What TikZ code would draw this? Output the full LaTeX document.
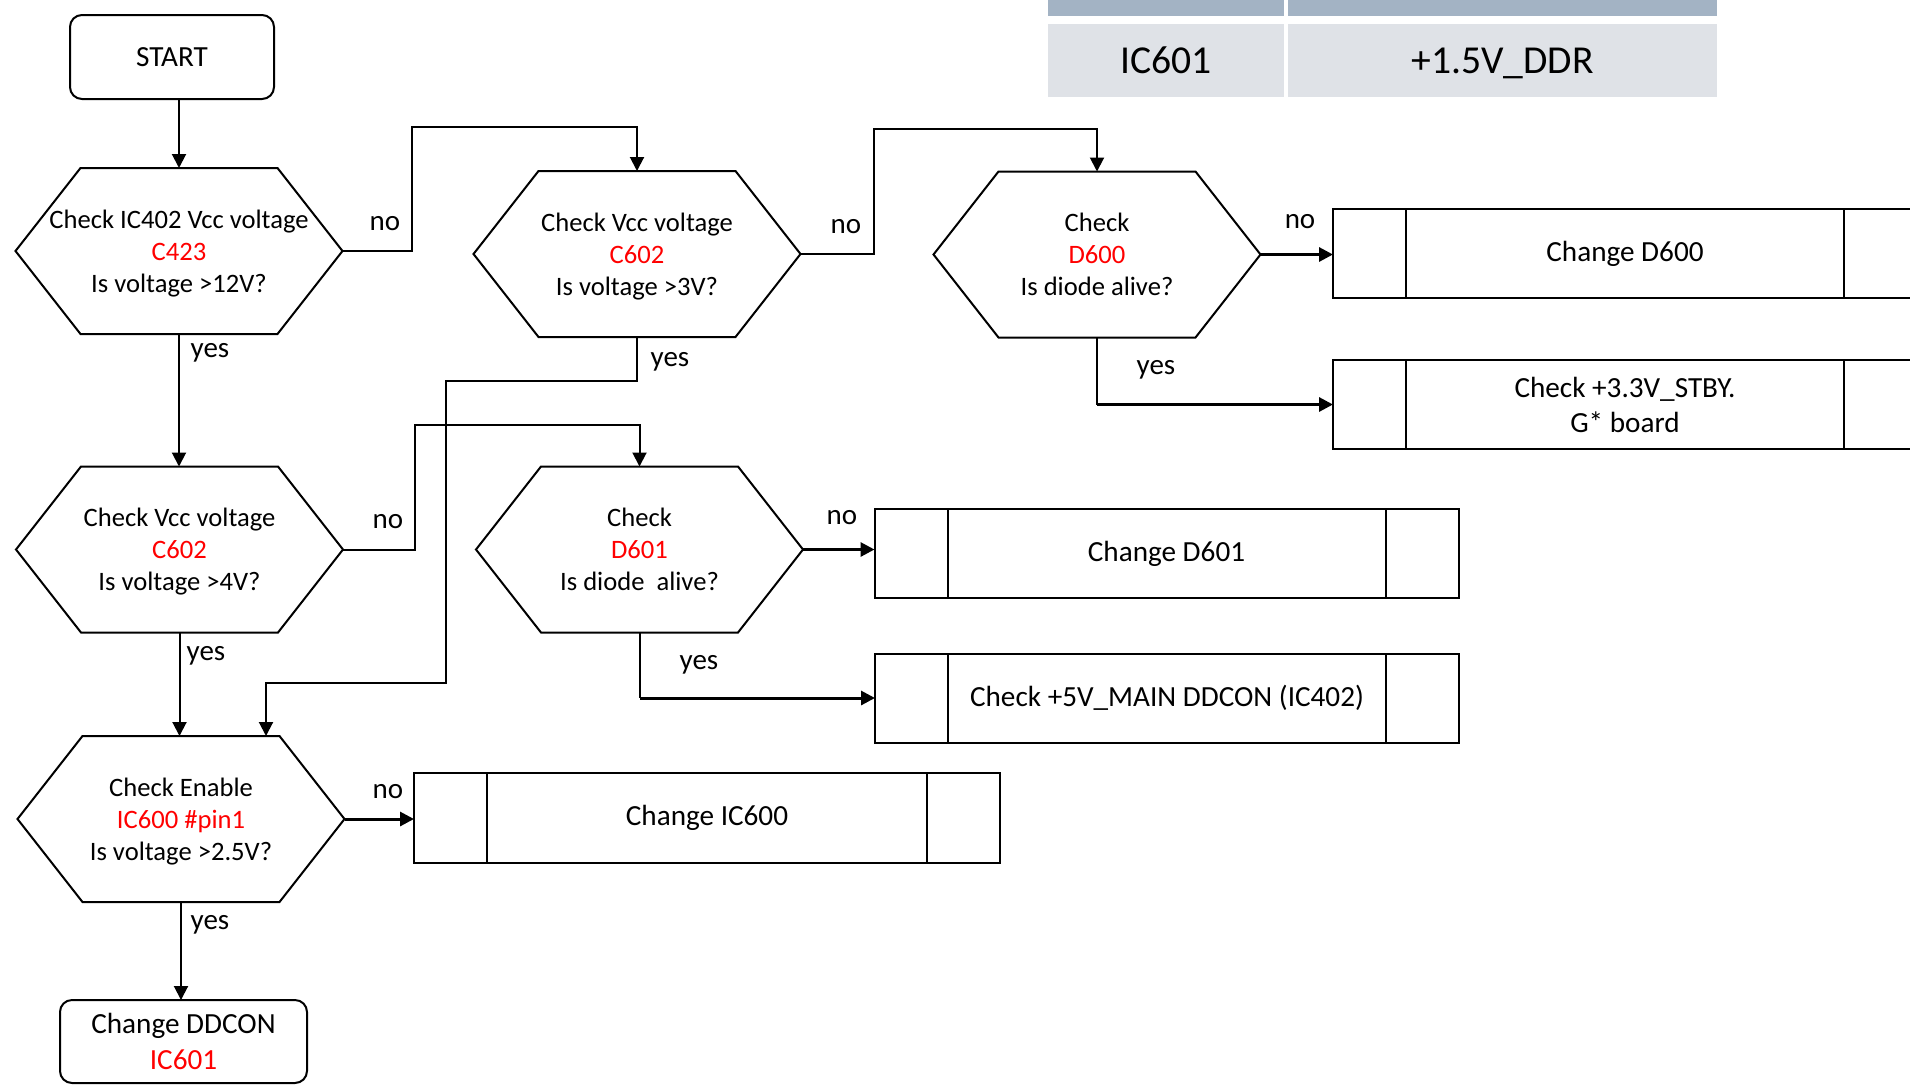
\documentclass[tikz,border=0pt]{standalone}
\usepackage{fontspec}
\setmainfont{Carlito}
\usetikzlibrary{arrows.meta}

\definecolor{headblue}{RGB}{163,179,196}
\definecolor{cellgray}{RGB}{223,226,231}

% 判断框内的三行文字, 第二行为红色
\newcommand{\asktext}[3]{#1\\\textcolor{red}{#2}\\\raisebox{0pt}[\height][0pt]{#3}}

\tikzset{
	decision/.style={inner sep=0pt, outer sep=0pt, minimum width=163.5pt, minimum height=83pt, align=center, font=\fontsize{13.3}{16}\selectfont},
	endbox/.style={draw, line width=1pt, rounded corners=6pt, inner sep=0pt, outer sep=0pt, align=center, font=\fontsize{14.6}{18}\selectfont},
	procbox/.style={draw, line width=1pt, inner sep=0pt, outer sep=0pt, minimum width=292pt, minimum height=44.5pt, align=center, font=\fontsize{14.6}{17.5}\selectfont},
	answer/.style={inner sep=0pt, font=\fontsize{14.5}{17}\selectfont},
	cell/.style={fill=cellgray, inner sep=0pt, minimum height=36.5pt, text height=15pt, text depth=2.2pt, font=\fontsize{19.8}{24}\selectfont},
	toproc/.style={->, line width=1.5pt},
}

\begin{document}
\begin{tikzpicture}[x=0.5pt, y=-0.5pt, line width=1pt, >={Triangle[length=7pt,width=7pt]}]
	
	% 画布大小
	\useasboundingbox (0,0) rectangle (1910,1088);
	
	% 定义参数
	\def\hexcut{32.5pt} % 六边形斜边的水平宽度
	\def\barw{36.5pt} % 子流程框两侧竖线位置
	
	% 表格
	\fill[headblue] (1048,0) rectangle (1284,16);
	\fill[headblue] (1288,0) rectangle (1717,16);
	\node[cell, minimum width=118pt] (ic) at (1166,60.5) {IC601};
	\node[cell, minimum width=214.5pt] (rail) at (1502.5,60.5) {+1.5V\_DDR};
	
	% 起止框
	\node[endbox, minimum width=102pt, minimum height=42pt] (start) at (172,57) {START};
	\node[endbox, minimum width=123.5pt, minimum height=41.5pt] (ddcon) at (183.5,1041.5) {Change DDCON\\\textcolor{red}{IC601}};
	
	% 判断框
	\node[decision] (h1) at (179,251) {\asktext{Check IC402 Vcc voltage}{C423}{Is voltage >12V?}};
	\node[decision] (h2) at (637,254) {\asktext{Check Vcc voltage}{C602}{Is voltage >3V?}};
	\node[decision] (h3) at (1097,254.5) {\asktext{Check}{D600}{Is diode alive?}};
	\node[decision] (h4) at (179.5,549.5) {\asktext{Check Vcc voltage}{C602}{Is voltage >4V?}};
	\node[decision] (h5) at (639.5,549.5) {\asktext{Check}{D601}{Is diode\ \ alive?}};
	\node[decision] (h6) at (181,819) {\asktext{Check Enable}{IC600 \#pin1}{Is voltage >2.5V?}};
	
	\foreach \n in {h1,h2,h3,h4,h5,h6}
	\draw (\n.west) -- ([xshift=\hexcut]\n.north west) -- ([xshift=-\hexcut]\n.north east) -- (\n.east) -- ([xshift=-\hexcut]\n.south east) -- ([xshift=\hexcut]\n.south west) -- cycle;
	
	% 子流程框
	\node[procbox] (d600) at (1625,253.5) {Change D600};
	\node[procbox] (stby) at (1625,404.5) {Check +3.3V\_STBY.\\G* board};
	\node[procbox] (d601) at (1166.5,553.5) {Change D601};
	\node[procbox] (main5) at (1167,698) {Check +5V\_MAIN DDCON (IC402)};
	\node[procbox, minimum width=293pt, minimum height=45pt] (ic600) at (707,818) {Change IC600};
	
	\foreach \n in {d600,stby,d601,main5,ic600}
	\draw ([xshift=\barw]\n.north west) -- ([xshift=\barw]\n.south west)
	([xshift=-\barw]\n.north east) -- ([xshift=-\barw]\n.south east);
	
	% 折线的拐点
	\coordinate (n1) at (412,127);
	\coordinate (n2) at (874,129);
	\coordinate (c2a) at (446,381);
	\coordinate (c2b) at (446,683);
	\coordinate (c4) at (415,425);
	\coordinate (in6) at ([xshift=42.5pt]h6.north);
	
	% 连线
	\draw[->] (h1.north |- start.south) -- (h1.north);
	\draw[->] (h1.east) -| (n1) -| (h2.north); % no
	\draw[->] (h2.east) -| (n2) -| (h3.north); % no
	\draw[->] (h1.south) -- (h1.south |- h4.north); % yes
	\draw[->] (h2.south) |- (c2a) -- (c2b) -| (in6); % yes
	\draw[->] (h4.east) -| (c4) -| (h5.north); % no
	\draw[->] (h4.south) -- (h4.south |- h6.north); % yes
	\draw[->] (h6.south) -- (h6.south |- ddcon.north); % yes
	\draw[toproc] (h3.east) -- (h3.east -| d600.west); % no
	\draw (h3.south) -- (h3.south |- stby.west); % yes
	\draw[toproc] (h3.south |- stby.west) -- (stby.west);
	\draw[toproc] (h5.east) -- (h5.east -| d601.west); % no
	\draw (h5.south) -- (h5.south |- main5.west); % yes
	\draw[toproc] (h5.south |- main5.west) -- (main5.west);
	\draw[toproc] (h6.east) -- (h6.east -| ic600.west); % no
	
	% 标注
	\node[answer] (no1) at (385,224) {no};
	\node[answer] (yes1) at (210,353) {yes};
	\node[answer] (no2) at (846,227) {no};
	\node[answer] (yes2) at (670,362) {yes};
	\node[answer] (no3) at (1300,222) {no};
	\node[answer] (yes3) at (1156,370) {yes};
	\node[answer] (no4) at (388,522) {no};
	\node[answer] (yes4) at (206,656) {yes};
	\node[answer] (no5) at (842,518) {no};
	\node[answer] (yes5) at (699,665) {yes};
	\node[answer] (no6) at (388,792) {no};
	\node[answer] (yes6) at (210,925) {yes};
	
\end{tikzpicture}
\end{document}
